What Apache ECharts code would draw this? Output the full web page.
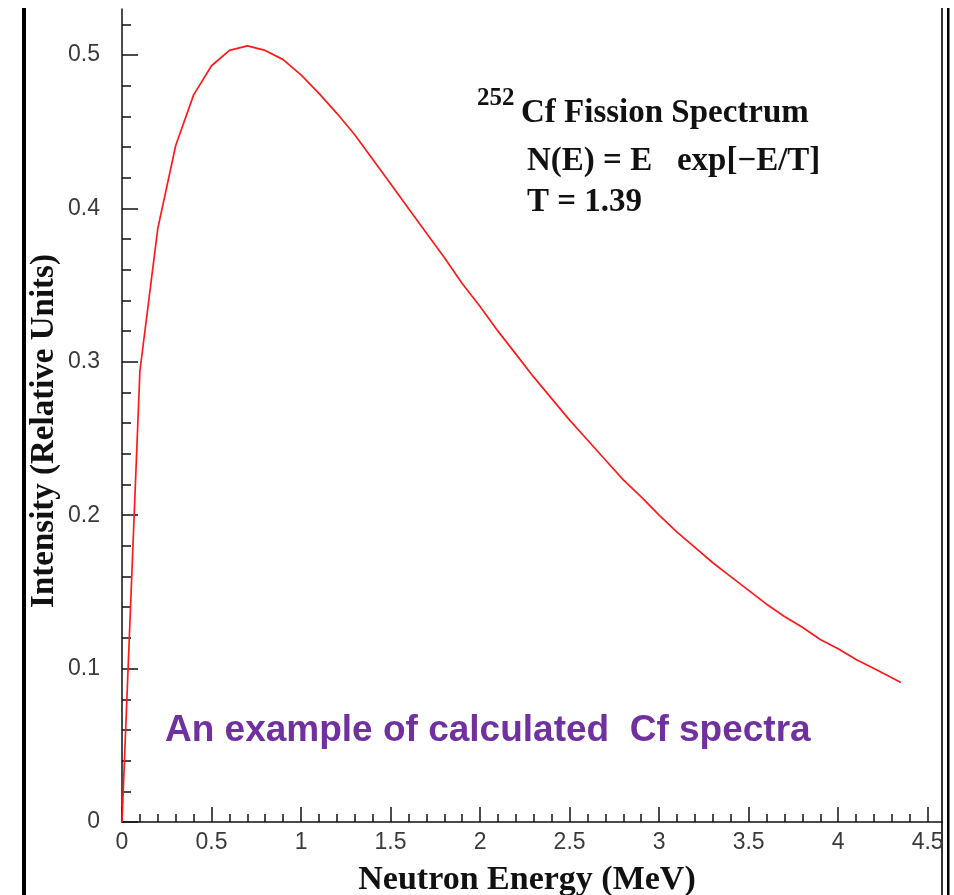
<!DOCTYPE html>
<html>
<head>
<meta charset="utf-8">
<script src="https://cdn.jsdelivr.net/npm/echarts@6/dist/echarts.min.js"></script>
<style>
  html, body { margin: 0; padding: 0; background: #ffffff; }
  #chart { width: 954px; height: 895px; }
</style>
</head>
<body>
<div id="chart"></div>
<script>
// 252Cf fission neutron spectrum, intensity vs. neutron energy
const energy = [0, 0.1, 0.2, 0.3, 0.4, 0.5, 0.6, 0.7, 0.8, 0.9,
  1.0, 1.1, 1.2, 1.3, 1.4, 1.5, 1.6, 1.7, 1.8, 1.9,
  2.0, 2.1, 2.2, 2.3, 2.4, 2.5, 2.6, 2.7, 2.8, 2.9,
  3.0, 3.1, 3.2, 3.3, 3.4, 3.5, 3.6, 3.7, 3.8, 3.9,
  4.0, 4.1, 4.2, 4.3, 4.35];
const intensity = [0, 0.294, 0.387, 0.441, 0.474, 0.493, 0.503, 0.506, 0.503, 0.497,
  0.487, 0.475, 0.462, 0.448, 0.432, 0.416, 0.400, 0.384, 0.368, 0.351,
  0.336, 0.320, 0.305, 0.290, 0.276, 0.262, 0.249, 0.236, 0.223, 0.212,
  0.200, 0.189, 0.179, 0.169, 0.160, 0.151, 0.142, 0.134, 0.127, 0.119,
  0.113, 0.106, 0.100, 0.094, 0.091];

// Axis ticks
const xMajorTicks = [0, 0.5, 1, 1.5, 2, 2.5, 3, 3.5, 4, 4.5];
const xMinorTicks = [0.1, 0.2, 0.3, 0.4, 0.6, 0.7, 0.8, 0.9, 1.1, 1.2, 1.3, 1.4,
  1.6, 1.7, 1.8, 1.9, 2.1, 2.2, 2.3, 2.4, 2.6, 2.7, 2.8, 2.9, 3.1, 3.2, 3.3, 3.4,
  3.6, 3.7, 3.8, 3.9, 4.1, 4.2, 4.3, 4.4];
const yMajorTicks = [0, 0.1, 0.2, 0.3, 0.4, 0.5];
const yMinorTicks = [0.02, 0.04, 0.06, 0.08, 0.12, 0.14, 0.16, 0.18, 0.22, 0.24, 0.26, 0.28,
  0.32, 0.34, 0.36, 0.38, 0.42, 0.44, 0.46, 0.48, 0.52];

const xRange = [0, 4.58];
const yRange = [0, 0.53];

const chart = echarts.init(document.getElementById('chart'), null, { renderer: 'canvas' });

const tickFont = { fontFamily: 'Liberation Sans, Arial, sans-serif', fontSize: 23, color: '#3a3a3a' };
const serifBold = 'Liberation Serif, Times New Roman, serif';

function makeAxis(kind, ticks, len, showLine, showLabel, margin) {
  return {
    type: 'value',
    min: kind === 'x' ? xRange[0] : yRange[0],
    max: kind === 'x' ? xRange[1] : yRange[1],
    position: kind === 'x' ? 'bottom' : 'left',
    offset: 0,
    axisLine: { show: showLine, onZero: false, lineStyle: { color: '#111', width: 1.5 } },
    axisTick: { show: true, inside: true, length: len, customValues: ticks,
      lineStyle: { color: '#111', width: 1.5 } },
    axisLabel: showLabel
      ? Object.assign({ show: true, customValues: ticks, margin: margin,
          formatter: v => String(v) }, tickFont)
      : { show: false },
    splitLine: { show: false },
    minorTick: { show: false }
  };
}

const option = {
  backgroundColor: '#ffffff',
  animation: false,
  grid: { left: 122, right: 12, top: 9, bottom: 73, containLabel: false },
  xAxis: [
    makeAxis('x', xMajorTicks, 15, true, true, 9),
    makeAxis('x', xMinorTicks, 8, false, false, 0)
  ],
  yAxis: [
    makeAxis('y', yMajorTicks, 16, true, true, 22),
    makeAxis('y', yMinorTicks, 9, false, false, 0)
  ],
  series: [{
    type: 'line',
    xAxisIndex: 0,
    yAxisIndex: 0,
    data: energy.map((e, i) => [e, intensity[i]]),
    showSymbol: false,
    smooth: false,
    lineStyle: { color: '#ff1a1a', width: 1.7 },
    itemStyle: { color: '#ff1a1a' }
  }],
  graphic: [
    // page frame lines
    { type: 'rect', shape: { x: 22, y: 8, width: 4, height: 887 }, style: { fill: '#000' } },
    { type: 'rect', shape: { x: 941, y: 8, width: 2, height: 887 }, style: { fill: '#333' } },
    { type: 'rect', shape: { x: 947, y: 8, width: 2.5, height: 887 }, style: { fill: '#000' } },
    // annotation
    { type: 'text', x: 477, y: 99, style: { text: '252', font: 'bold 25px ' + serifBold, fill: '#111', verticalAlign: 'middle' } },
    { type: 'text', x: 521, y: 113, style: { text: 'Cf Fission Spectrum', font: 'bold 33px ' + serifBold, fill: '#111', verticalAlign: 'middle' } },
    { type: 'text', x: 527, y: 161, style: { text: 'N(E) = E   exp[\u2212E/T]', font: 'bold 33px ' + serifBold, fill: '#111', verticalAlign: 'middle' } },
    { type: 'text', x: 527, y: 202, style: { text: 'T = 1.39', font: 'bold 33px ' + serifBold, fill: '#111', verticalAlign: 'middle' } },
    // axis titles
    { type: 'text', x: 527, y: 880, style: { text: 'Neutron Energy (MeV)', font: 'bold 34px ' + serifBold, fill: '#111', align: 'center', verticalAlign: 'middle' } },
    { type: 'text', x: 44, y: 431, rotation: Math.PI / 2, style: { text: 'Intensity (Relative Units)', font: 'bold 33px ' + serifBold, fill: '#111', align: 'center', verticalAlign: 'middle' } },
    // caption
    { type: 'text', x: 165, y: 731, style: { text: 'An example of calculated  Cf spectra', font: 'bold 37px Liberation Sans, Arial, sans-serif', fill: '#7030a0', verticalAlign: 'middle' } }
  ]
};

chart.setOption(option);
</script>
</body>
</html>
